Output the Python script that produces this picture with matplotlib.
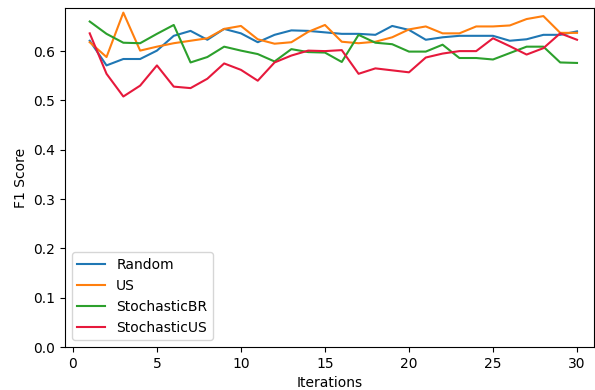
import numpy as np
import matplotlib.pyplot as plt

# Data
iterations = np.arange(1, 31)

random_f1 = [0.621, 0.571, 0.584, 0.584, 0.601, 0.631, 0.641, 0.623, 0.645, 0.636,
             0.618, 0.633, 0.642, 0.641, 0.638, 0.635, 0.635, 0.633, 0.651, 0.643,
             0.623, 0.628, 0.631, 0.631, 0.631, 0.621, 0.624, 0.633, 0.633, 0.640]

us_f1 = [0.618, 0.588, 0.678, 0.601, 0.609, 0.616, 0.621, 0.626, 0.645, 0.651,
         0.624, 0.615, 0.618, 0.639, 0.653, 0.619, 0.616, 0.619, 0.628, 0.644,
         0.650, 0.636, 0.636, 0.650, 0.650, 0.652, 0.665, 0.671, 0.637, 0.637]

stoch_br_f1 = [0.660, 0.635, 0.617, 0.616, 0.635, 0.653, 0.577, 0.588, 0.609, 0.601,
               0.594, 0.579, 0.604, 0.598, 0.597, 0.578, 0.633, 0.617, 0.614, 0.599,
               0.599, 0.613, 0.586, 0.586, 0.583, 0.596, 0.609, 0.609, 0.577, 0.576]

stoch_us_f1 = [0.636, 0.554, 0.508, 0.530, 0.571, 0.528, 0.525, 0.544, 0.575, 0.562,
               0.540, 0.577, 0.591, 0.601, 0.600, 0.602, 0.554, 0.565, 0.561, 0.557,
               0.587, 0.595, 0.600, 0.600, 0.626, 0.610, 0.593, 0.606, 0.636, 0.623]

fig = plt.figure(figsize=(5.95, 3.9), dpi=100)
ax = fig.add_axes([0.109, 0.110, 0.889, 0.869])

ax.plot(iterations, random_f1, color="#1f77b4", label="Random")
ax.plot(iterations, us_f1, color="#ff7f0e", label="US")
ax.plot(iterations, stoch_br_f1, color="#2ca02c", label="StochasticBR")
ax.plot(iterations, stoch_us_f1, color="#e6193c", label="StochasticUS")

ax.set_ylim(0, 0.687)
ax.set_xlim(-0.48, 31.0)
ax.set_xticks([0, 5, 10, 15, 20, 25, 30])
ax.set_xlabel("Iterations")
ax.set_ylabel("F1 Score")
ax.legend(loc="lower left")

fig.savefig("out.png", dpi=100)
